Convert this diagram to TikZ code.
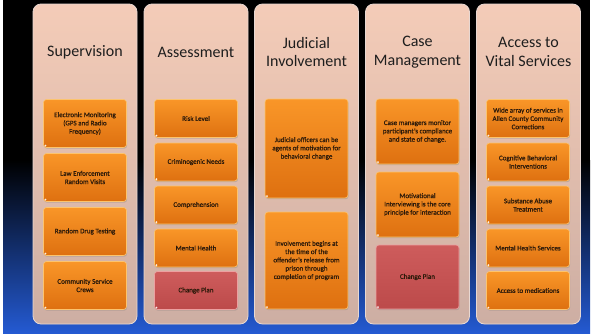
\documentclass[tikz,border=0pt]{standalone}
\usepackage{fontspec}
\setmainfont{Carlito}
\newfontfamily\boxfamily[FakeBold=0.8]{Carlito}
\usetikzlibrary{shadows}
\definecolor{colTop}{RGB}{244,204,184}
\definecolor{colBot}{RGB}{205,174,163}
\definecolor{colEdge}{RGB}{232,216,210}
\definecolor{orTop}{RGB}{249,150,40}
\definecolor{orBot}{RGB}{222,112,16}
\definecolor{orEdge}{RGB}{252,196,110}
\definecolor{rdTop}{RGB}{206,92,92}
\definecolor{rdBot}{RGB}{188,74,74}
\definecolor{rdEdge}{RGB}{236,160,160}
\definecolor{boxText}{RGB}{45,26,10}
\definecolor{titleText}{RGB}{30,30,30}
\definecolor{bgBlue}{RGB}{36,90,210}
\tikzset{
  colbox/.style={rounded corners=8pt, top color=colTop, bottom color=colBot, draw=colEdge, line width=0.8pt,
    minimum width=104pt, minimum height=320pt, inner sep=0pt},
  coltitle/.style={font=\fontsize{16}{18.5}\selectfont, text=titleText, align=center, inner sep=0pt},
  item/.style={rounded corners=3pt, top color=orTop, bottom color=orBot, draw=orEdge, line width=0.6pt,
    drop shadow={opacity=0.35, shadow xshift=0.6pt, shadow yshift=-1.2pt},
    minimum width=83pt, inner sep=0pt, align=center, text=boxText,
    font=\boxfamily\fontsize{7}{8.3}\selectfont},
  reditem/.style={item, top color=rdTop, bottom color=rdBot, draw=rdEdge},
}
\begin{document}
\begin{tikzpicture}[x=1pt,y=-1pt]
\useasboundingbox (0,0) rectangle (592,333);
\fill[white] (0,0) rectangle (592,333);
\fill[black] (3,0) rectangle (590,160);
\shade[top color=black, bottom color=bgBlue] (3,160) rectangle (590,333);
% columns
\node[colbox] (c1) at (85,164) {};
\node[colbox] (c2) at (196,164) {};
\node[colbox] (c3) at (306.5,164) {};
\node[colbox] (c4) at (417.5,164) {};
\node[colbox] (c5) at (528.5,164) {};
% titles
\node[coltitle] (t1) at (85,52) {Supervision};
\node[coltitle] (t2) at (196,52) {Assessment};
\node[coltitle] (t3) at (306.5,52) {Judicial\\Involvement};
\node[coltitle] (t4) at (417.5,52) {Case\\Management};
\node[coltitle] (t5) at (528.5,52) {Access to\\Vital Services};
% column 1
\node[item, minimum height=48pt] (a1) at (85,123.5) {Electronic Monitoring\\(GPS and Radio\\Frequency)};
\node[item, minimum height=48pt] (a2) at (85,177.5) {Law Enforcement\\Random Visits};
\node[item, minimum height=48pt] (a3) at (85,231.5) {Random Drug Testing};
\node[item, minimum height=48pt] (a4) at (85,285.5) {Community Service\\Crews};
% column 2
\node[item, minimum height=38pt] (b1) at (196,118.5) {Risk Level};
\node[item, minimum height=38pt] (b2) at (196,162) {Criminogenic Needs};
\node[item, minimum height=38pt] (b3) at (196,205) {Comprehension};
\node[item, minimum height=38pt] (b4) at (196,248) {Mental Health};
\node[reditem, minimum height=38pt] (b5) at (196,290.5) {Change Plan};
% column 3
\node[item, minimum height=99pt] (d1) at (306.5,148.5) {Judicial officers can be\\agents of motivation for\\behavioral change};
\node[item, minimum height=97pt] (d2) at (306.5,260.5) {Involvement begins at\\the time of the\\offender’s release from\\prison through\\completion of program};
% column 4
\node[item, minimum height=65pt] (e1) at (417.5,131.5) {Case managers monitor\\participant’s compliance\\and state of change.};
\node[item, minimum height=65pt] (e2) at (417.5,204.5) {Motivational\\Interviewing is the core\\principle for interaction};
\node[reditem, minimum height=64pt] (e3) at (417.5,277) {Change Plan};
% column 5
\node[item, minimum height=38pt] (f1) at (528,118.5) {Wide array of services in\\Allen County Community\\Corrections};
\node[item, minimum height=38pt] (f2) at (528,162) {Cognitive Behavioral\\Interventions};
\node[item, minimum height=38pt] (f3) at (528,205) {Substance Abuse\\Treatment};
\node[item, minimum height=38pt] (f4) at (528,248) {Mental Health Services};
\node[item, minimum height=38pt] (f5) at (528,290.5) {Access to medications};
% glossy dots
\foreach \n in {a1,a2,a3,a4,b1,b2,b3,b4,b5,d1,d2,e1,e2,e3,f1,f2,f3,f4,f5}
  \fill[white, opacity=0.9] ([shift={(2.2,-2.2)}]\n.south west) circle (1pt);
\end{tikzpicture}
\end{document}
